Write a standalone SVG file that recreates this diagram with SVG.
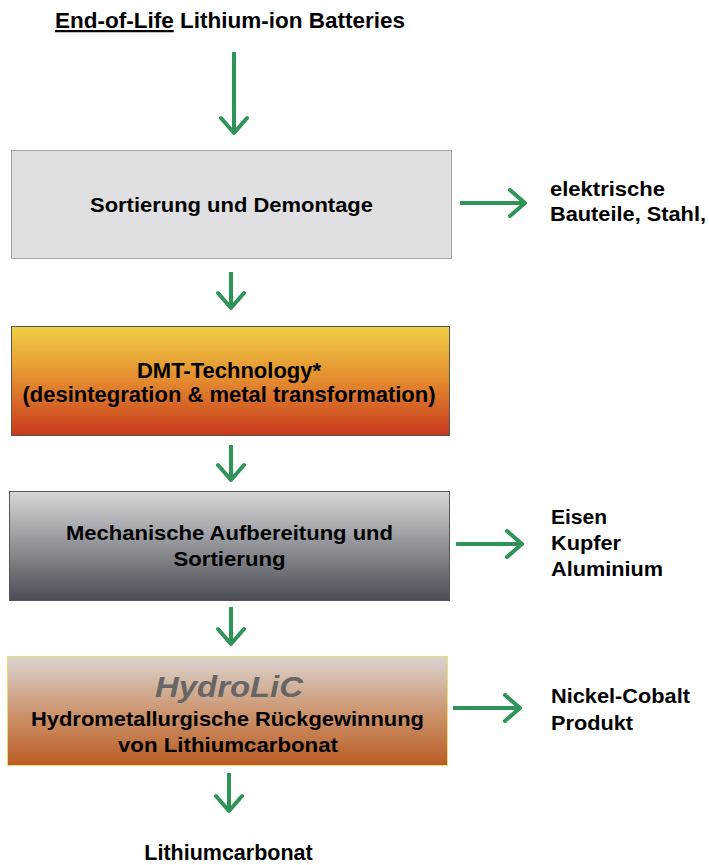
<svg xmlns="http://www.w3.org/2000/svg" width="709" height="865" viewBox="0 0 709 865">
<style>
.t{font-family:"Liberation Sans",Arial,sans-serif;font-weight:bold;fill:#000;}
.c{text-anchor:middle;}
.n{font-size:20px;}
.box{stroke-width:1;}
.con line{stroke:#2e9458;stroke-width:4;fill:none;marker-end:url(#ah);}
</style>
<defs>
<marker id="ah" markerUnits="userSpaceOnUse" markerWidth="30" markerHeight="30" viewBox="-20 -15 30 30" refX="0" refY="0" orient="auto">
<path d="M-15,-13 L0,0 L-15,13" fill="none" stroke="#2e9458" stroke-width="4" stroke-linecap="round" stroke-linejoin="round"/>
</marker>
<linearGradient id="gDMT" x1="0" y1="0" x2="0" y2="1">
<stop offset="0" stop-color="#f1cf45"/>
<stop offset="0.5" stop-color="#e38a2f"/>
<stop offset="1" stop-color="#c7381d"/>
</linearGradient>
<linearGradient id="gMech" x1="0" y1="0" x2="0" y2="1">
<stop offset="0" stop-color="#d6d7da"/>
<stop offset="1" stop-color="#4b4d55"/>
</linearGradient>
<linearGradient id="gHyd" x1="0" y1="0" x2="0" y2="1">
<stop offset="0" stop-color="#dad5d3"/>
<stop offset="0.5" stop-color="#cc9670"/>
<stop offset="1" stop-color="#bb5c23"/>
</linearGradient>
</defs>
<rect width="709" height="865" fill="#fff"/>

<g id="title">
<text class="t" x="55" y="28" font-size="22.5"><tspan text-decoration="underline">End-of-Life</tspan> Lithium-ion Batteries</text>
</g>

<g id="sortierung">
<rect class="box" x="11.5" y="150.5" width="440" height="108" fill="#e0e0e2" stroke="#a3a3a3"/>
<text class="t c n" x="231.5" y="212" textLength="283" lengthAdjust="spacingAndGlyphs">Sortierung und Demontage</text>
</g>

<g id="out1">
<text class="t n" x="550" y="196" textLength="115" lengthAdjust="spacingAndGlyphs">elektrische</text>
<text class="t n" x="550" y="221" textLength="156" lengthAdjust="spacingAndGlyphs">Bauteile, Stahl,</text>
</g>

<g id="dmt">
<rect class="box" x="11.5" y="326.5" width="438" height="109" fill="url(#gDMT)" stroke="#555"/>
<text class="t c" x="229" y="378" font-size="22">DMT-Technology*</text>
<text class="t c" x="229" y="402" font-size="22">(desintegration &amp; metal transformation)</text>
</g>

<g id="mech">
<rect class="box" x="9.5" y="491.5" width="440" height="109" fill="url(#gMech)" stroke="#555"/>
<text class="t c n" x="229.5" y="540" textLength="327" lengthAdjust="spacingAndGlyphs">Mechanische Aufbereitung und</text>
<text class="t c n" x="229.5" y="566" textLength="112" lengthAdjust="spacingAndGlyphs">Sortierung</text>
</g>

<g id="out2">
<text class="t n" x="551" y="524" textLength="56" lengthAdjust="spacingAndGlyphs">Eisen</text>
<text class="t n" x="551" y="550" textLength="70" lengthAdjust="spacingAndGlyphs">Kupfer</text>
<text class="t n" x="551" y="576" textLength="112" lengthAdjust="spacingAndGlyphs">Aluminium</text>
</g>

<g id="hydro">
<rect class="box" x="7.5" y="656.5" width="440" height="109" fill="url(#gHyd)" stroke="#e6df7a"/>
<text class="c" x="229" y="697" font-family="Liberation Sans,Arial,sans-serif" font-weight="bold" font-style="italic" font-size="30" fill="#666" textLength="148" lengthAdjust="spacingAndGlyphs">HydroLiC</text>
<text class="t c n" x="227.5" y="726" textLength="393" lengthAdjust="spacingAndGlyphs">Hydrometallurgische Rückgewinnung</text>
<text class="t c n" x="228" y="752" textLength="220" lengthAdjust="spacingAndGlyphs">von Lithiumcarbonat</text>
</g>

<g id="out3">
<text class="t n" x="551" y="703" textLength="139" lengthAdjust="spacingAndGlyphs">Nickel-Cobalt</text>
<text class="t n" x="551" y="730" textLength="82" lengthAdjust="spacingAndGlyphs">Produkt</text>
</g>

<g id="product">
<text class="t c" x="228.5" y="860" font-size="21.5">Lithiumcarbonat</text>
</g>

<g id="connectors" class="con">
<line x1="234" y1="52" x2="234" y2="133"/>
<line x1="231" y1="272" x2="231" y2="308"/>
<line x1="231" y1="445" x2="231" y2="480"/>
<line x1="231" y1="607" x2="231" y2="644"/>
<line x1="229" y1="773" x2="229" y2="811"/>
<line x1="460" y1="203" x2="525" y2="203"/>
<line x1="456" y1="544" x2="522" y2="544"/>
<line x1="453" y1="708" x2="520" y2="708"/>
</g>
</svg>
